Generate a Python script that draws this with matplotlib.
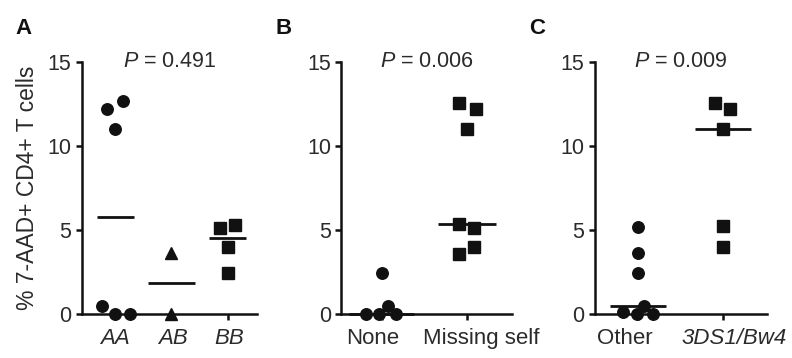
import matplotlib
matplotlib.use('Agg')
import matplotlib.pyplot as plt
import matplotlib.transforms as mtransforms

# values (% 7-AAD+ CD4+ T cells) per group
aa_vals = [12.2, 12.7, 11.05, 0.5, 0.0, 0.0]
ab_vals = [3.65, 0.0]
bb_vals = [5.1, 5.3, 4.0, 2.45]

none_vals = [2.45, 0.0, 0.0, 0.5, 0.0]
missing_vals = [12.6, 12.2, 11.05, 5.34, 5.1, 3.6, 4.0]

other_vals = [5.2, 3.65, 2.45, 0.5, 0.1, 0.0, 0.0]
ds1_vals = [12.6, 12.2, 11.05, 5.25, 4.0]

p_values = ['0.491', '0.006', '0.009']
panel_letters = ['A', 'B', 'C']

# horizontal scatter of the points inside each column
aa_jit = [-0.15, 0.14, 0.0, -0.24, 0.0, 0.27]
ab_jit = [0.0, 0.0]
bb_jit = [-0.14, 0.14, 0.0, 0.0]
none_jit = [0.01, -0.18, -0.03, 0.07, 0.17]
missing_jit = [-0.09, 0.10, 0.0, -0.09, 0.08, -0.09, 0.08]
other_jit = [0.0, 0.0, 0.0, 0.07, -0.18, -0.01, 0.18]
ds1_jit = [-0.09, 0.09, 0.0, 0.0, 0.0]

plt.rcParams['font.family'] = ['Liberation Sans', 'DejaVu Sans']
plt.rcParams['mathtext.fontset'] = 'custom'
plt.rcParams['mathtext.it'] = 'Liberation Sans:italic'
plt.rcParams['mathtext.rm'] = 'Liberation Sans'
txt = '#2b2b2b'

fig = plt.figure(figsize=(7.92, 3.58), dpi=100)

# [left, bottom, width, height] in figure fraction
boxes = [[0.103, 0.123, 0.222, 0.703],
         [0.431, 0.123, 0.216, 0.703],
         [0.751, 0.123, 0.217, 0.703]]

# lab_shift: sideways nudge of each category label, in pixels
panels = [
    dict(groups=[aa_vals, ab_vals, bb_vals], jit=[aa_jit, ab_jit, bb_jit],
         marks=['o', '^', 's'], labels=['AA', 'AB', 'BB'],
         italic=[True, True, True], xlim=(-0.6, 2.53),
         mwidth=[0.33, 0.42, 0.33], lab_shift=[0, 2, 2]),
    dict(groups=[none_vals, missing_vals], jit=[none_jit, missing_jit],
         marks=['o', 's'], labels=['None', 'Missing self'],
         italic=[False, False], xlim=(-0.47, 1.53),
         mwidth=[0.38, 0.34], lab_shift=[-9, 14]),
    dict(groups=[other_vals, ds1_vals], jit=[other_jit, ds1_jit],
         marks=['o', 's'], labels=['Other', '3DS1/Bw4'],
         italic=[False, True], xlim=(-0.51, 1.52),
         mwidth=[0.33, 0.33], lab_shift=[-13, 11]),
]

for i, (box, p) in enumerate(zip(boxes, panels)):
    ax = fig.add_axes(box)
    for k, (vals, jit) in enumerate(zip(p['groups'], p['jit'])):
        xs = [k + j for j in jit]
        ax.plot(xs, vals, linestyle='none', marker=p['marks'][k],
                markersize=8.3, color='#111111', clip_on=False, zorder=3)
        s = sorted(vals)
        n = len(s)
        med = s[n // 2] if n % 2 else (s[n // 2 - 1] + s[n // 2]) / 2
        w = p['mwidth'][k]
        ax.plot([k - w, k + w], [med, med], color='#111111', lw=2.0,
                solid_capstyle='butt', clip_on=False, zorder=4)

    ax.set_xlim(*p['xlim'])
    ax.set_ylim(0, 15)
    ax.set_yticks([0, 5, 10, 15])
    ax.set_xticks(range(len(p['labels'])))
    ax.set_xticklabels([])
    # category names drawn by hand so they can be nudged sideways
    for k, (name, it, dx) in enumerate(zip(p['labels'], p['italic'],
                                          p['lab_shift'])):
        off = mtransforms.ScaledTranslation(dx / 100.0, -0.14,
                                            fig.dpi_scale_trans)
        ax.text(k, 0, name, transform=ax.get_xaxis_transform() + off,
                ha='center', va='top', fontsize=16, color=txt,
                fontstyle='italic' if it else 'normal')
    for lab in ax.get_yticklabels():
        lab.set_fontsize(15.5)
        lab.set_color(txt)

    for side in ['top', 'right']:
        ax.spines[side].set_visible(False)
    for side in ['left', 'bottom']:
        ax.spines[side].set_linewidth(1.8)
        ax.spines[side].set_color('#111111')
    ax.tick_params(axis='both', width=1.8, length=4.5, color='#111111')
    ax.tick_params(axis='y', pad=3)
    ax.patch.set_visible(False)

    ax.text(0.5, 14.7, '$P$ = ' + p_values[i], transform=ax.get_yaxis_transform(),
            ha='center', va='baseline', fontsize=15.5, color=txt)
    fig.text(box[0] - 0.083, 0.95, panel_letters[i], fontsize=16,
             fontweight='bold', color='#111111', va='top')

    if i == 0:
        ax.set_ylabel('% 7-AAD+ CD4+ T cells', fontsize=16.5, color=txt,
                      labelpad=6)

fig.savefig('out.png', dpi=100)
